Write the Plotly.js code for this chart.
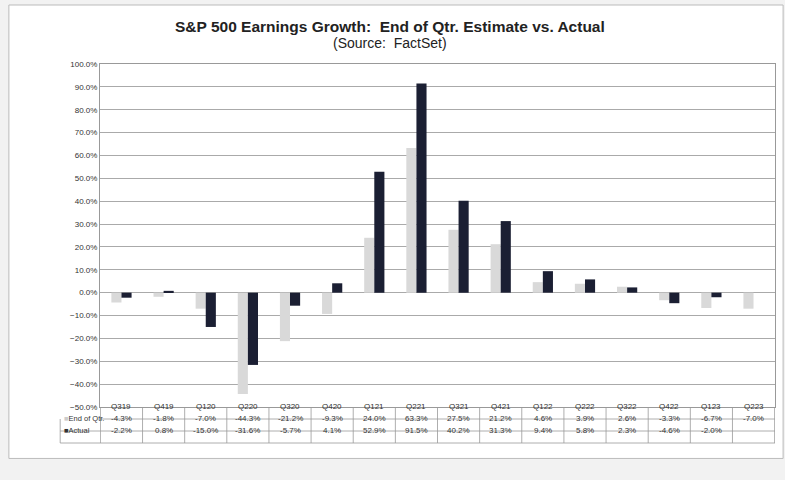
<!DOCTYPE html>
<html><head><script src="https://cdn.plot.ly/plotly-3.0.1.min.js"></script>
<style>body{margin:0;background:#f2f2f2}</style></head>
<body><div id="myDiv" style="width:785px;height:480px"></div>
<script>
var quarters = ['Q319','Q419','Q120','Q220','Q320','Q420','Q121','Q221','Q321','Q421','Q122','Q222','Q322','Q422','Q123','Q223'];
var estimate = [-4.3,-1.8,-7.0,-44.3,-21.2,-9.3,24.0,63.3,27.5,21.2,4.6,3.9,2.6,-3.3,-6.7,-7.0];
var actual = [-2.2,0.8,-15.0,-31.6,-5.7,4.1,52.9,91.5,40.2,31.3,9.4,5.8,2.3,-4.6,-2.0,null];

var data = [
  {x: quarters, y: estimate, type: 'bar', name: 'End of Qtr.', marker: {color: '#d9d9d9'}},
  {x: quarters, y: actual, type: 'bar', name: 'Actual', marker: {color: '#1b1f33'}}
];

var rowY = [-0.018, -0.053, -0.088];
var lineY = [0, -0.035, -0.07, -0.105];
var fnt = {family: 'Liberation Sans, Arial', size: 8, color: '#333'};
var annotations = [
  {text: '<b>S&P 500 Earnings Growth:  End of Qtr. Estimate vs. Actual</b>', xref: 'paper', yref: 'paper', x: 0.43, y: 1.14, showarrow: false, font: {family: 'Liberation Sans, Arial', size: 15.5, color: '#222'}},
  {text: '(Source:  FactSet)', xref: 'paper', yref: 'paper', x: 0.43, y: 1.09, showarrow: false, font: {family: 'Liberation Sans, Arial', size: 14, color: '#222'}},
  {text: '<span style="color:#ccc">■</span>End of Qtr.', xref: 'paper', yref: 'paper', x: -0.056, y: rowY[1], xanchor: 'left', showarrow: false, font: {family: 'Liberation Sans, Arial', size: 7.5, color: '#333'}},
  {text: '■Actual', xref: 'paper', yref: 'paper', x: -0.056, y: rowY[2], xanchor: 'left', showarrow: false, font: {family: 'Liberation Sans, Arial', size: 7.5, color: '#333'}}
];
var shapes = [
  {type: 'rect', xref: 'paper', yref: 'paper', x0: -0.135, x1: 1.012, y0: -0.15, y1: 1.172, line: {color: '#bbb', width: 1}, fillcolor: 'white', layer: 'below'}
];
quarters.forEach(function (q, i) {
  annotations.push({text: q, x: q, xref: 'x', yref: 'paper', y: rowY[0], showarrow: false, font: fnt});
  annotations.push({text: estimate[i].toFixed(1) + '%', x: q, xref: 'x', yref: 'paper', y: rowY[1], showarrow: false, font: fnt});
  if (actual[i] !== null) annotations.push({text: actual[i].toFixed(1) + '%', x: q, xref: 'x', yref: 'paper', y: rowY[2], showarrow: false, font: fnt});
});
for (var i = 0; i <= quarters.length; i++) {
  shapes.push({type: 'line', xref: 'x', yref: 'paper', x0: i - 0.5, x1: i - 0.5, y0: 0, y1: -0.105, line: {color: '#999', width: 0.8}});
}
for (var j = 1; j < lineY.length; j++) {
  shapes.push({type: 'line', xref: 'paper', yref: 'paper', x0: j === 1 ? 0 : -0.059, x1: 1, y0: lineY[j], y1: lineY[j], line: {color: '#999', width: 0.8}});
}
shapes.push({type: 'line', xref: 'paper', yref: 'paper', x0: -0.059, x1: -0.059, y0: -0.035, y1: -0.105, line: {color: '#999', width: 0.8}});

var layout = {
  width: 785, height: 480,
  margin: {l: 100, r: 10, t: 64, b: 73},
  paper_bgcolor: '#f2f2f2', plot_bgcolor: 'white',
  barmode: 'group', bargap: 0.52, bargroupgap: 0,
  showlegend: false,
  font: fnt,
  xaxis: {showticklabels: false, showline: true, linecolor: '#999', mirror: true, ticks: ''},
  yaxis: {range: [-50, 100], dtick: 10, tickformat: '.1f', ticksuffix: '%', gridcolor: '#aaa', gridwidth: 0.7,
    showline: true, linecolor: '#999', mirror: true, zeroline: false, tickfont: {size: 8, color: '#333'}},
  annotations: annotations,
  shapes: shapes
};
Plotly.newPlot('myDiv', data, layout, {displayModeBar: false});
</script></body></html>
